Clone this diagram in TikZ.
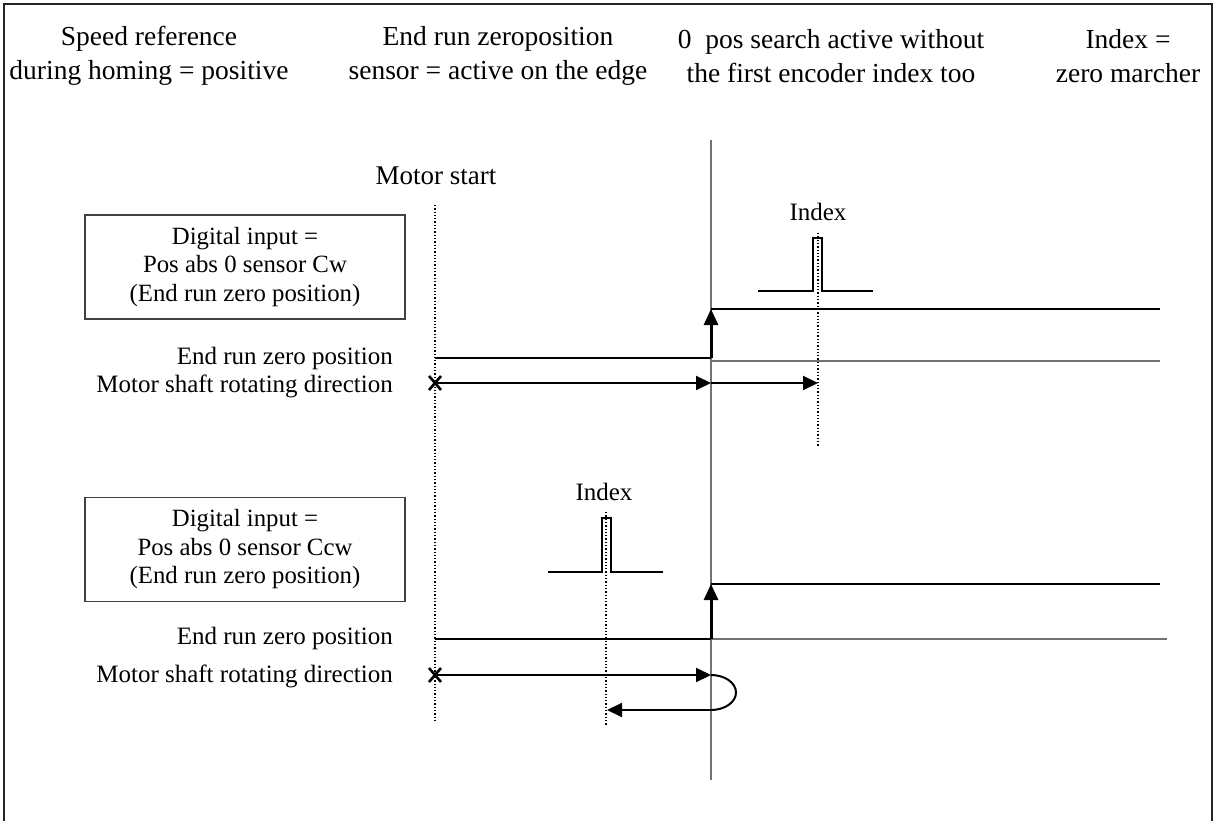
\documentclass[tikz,border=0pt]{standalone}
\usepackage{fontspec}
\setmainfont{Liberation Serif}
\usetikzlibrary{arrows.meta,calc}
\begin{document}
\begin{tikzpicture}[x=1pt,y=-1pt,
  hdr/.style={font=\fontsize{27.5}{34}\selectfont, align=center, inner sep=0pt},
  lbl/.style={font=\fontsize{25}{28}\selectfont, inner sep=0pt},
  boxnode/.style={draw=black!75, line width=1.2pt, minimum width=320pt, minimum height=104pt, align=center, font=\fontsize{24.8}{28.5}\selectfont},
  sig/.style={line width=2.8pt, black},
  thin/.style={line width=1.5pt, black!55},
  dots/.style={line width=1.3pt, dotted, black},
  arr/.style={line width=2pt, -{Triangle[length=15pt,width=14pt]}},
  varr/.style={line width=3pt, -{Triangle[length=16pt,width=14pt]}},
  pulse/.style={line width=2.2pt, black},
  frame/.style={line width=2.4pt, black!85}
]
\useasboundingbox (0,0) rectangle (1215,821);
\fill[white] (0,0) rectangle (1215,821);
% frame
\coordinate (fbl) at (4,821);
\coordinate (ftl) at (4,4);
\coordinate (ftr) at (1212,4);
\coordinate (fbr) at (1212,821);
\draw[frame] (fbl) -- (ftl) -- (ftr) -- (fbr);

% headers
\node[hdr] (h1) at (149,56) {Speed reference\\during homing = positive};
\node[hdr] (h2) at (498,56) {End run zeroposition\\sensor = active on the edge};
\node[hdr] (h3) at (831,56) {0\ \ pos search active without\\the first encoder index too};
\node[hdr] (h4) at (1128,56) {Index =\\zero marcher};

% main vertical line
\coordinate (vt) at (711,140);
\coordinate (vb) at (711,780);
\draw[thin] (vt) -- (vb);

% motor start
\node[font=\fontsize{27}{30}\selectfont, inner sep=0pt] (ms) at (436,176) {Motor start};
\coordinate (d1t) at (435,205);
\coordinate (d1b) at (435,720);
\draw[dots] (d1t) -- (d1b);

% ===== Upper diagram =====
\node[boxnode] (box1) at (245,267) {Digital input =\\Pos abs 0 sensor Cw\\(End run zero position)};
\node[lbl, anchor=east] (l1a) at (393,358) {End run zero position};
\node[lbl, anchor=east] (l1b) at (393,386) {Motor shaft rotating direction};

\coordinate (s1a) at (435,358);
\coordinate (s1b) at (711,358);
\coordinate (s1c) at (711,309);
\coordinate (s1d) at (1160,309);
\coordinate (g1a) at (711,361);
\coordinate (g1b) at (1160,361);
\draw[thin] (g1a) -- (g1b);
\draw[sig] (s1a) -- (s1b);
\draw[varr] (s1b) -- (s1c);
\draw[sig] (s1c) -- (s1d);

% index 1
\node[font=\fontsize{25}{28}\selectfont, inner sep=0pt] (ix1) at (818,212) {Index};
\coordinate (p1a) at (758,291);
\coordinate (p1b) at (813,291);
\coordinate (p1c) at (813,238);
\coordinate (p1d) at (822,238);
\coordinate (p1e) at (822,291);
\coordinate (p1f) at (873,291);
\draw[pulse] (p1a) -- (p1b) -- (p1c) -- (p1d) -- (p1e) -- (p1f);
\coordinate (d2t) at (818,233);
\coordinate (d2b) at (818,447);
\draw[dots] (d2t) -- (d2b);

% direction 1
\coordinate (x1) at (435,383);
\coordinate (a1m) at (711,383);
\coordinate (a1e) at (818,383);
\draw[line width=2.6pt] ($(x1)+(-6,-7)$) -- ($(x1)+(6,7)$) ($(x1)+(6,-7)$) -- ($(x1)+(-6,7)$);
\draw[arr] (x1) -- (a1m);
\draw[arr] (a1m) -- (a1e);

% ===== Lower diagram =====
\node[boxnode] (box2) at (245,549.5) {Digital input =\\Pos abs 0 sensor Ccw\\(End run zero position)};
\node[lbl, anchor=east] (l2a) at (393,638) {End run zero position};
\node[lbl, anchor=east] (l2b) at (393,676) {Motor shaft rotating direction};

\coordinate (s2a) at (435,639);
\coordinate (s2b) at (711,639);
\coordinate (s2c) at (711,584);
\coordinate (s2d) at (1160,584);
\coordinate (g2a) at (711,639);
\coordinate (g2b) at (1167,639);
\draw[thin] (g2a) -- (g2b);
\draw[sig] (s2a) -- (s2b);
\draw[varr] (s2b) -- (s2c);
\draw[sig] (s2c) -- (s2d);

% index 2
\node[font=\fontsize{25}{28}\selectfont, inner sep=0pt] (ix2) at (604,492) {Index};
\coordinate (p2a) at (548,572);
\coordinate (p2b) at (602,572);
\coordinate (p2c) at (602,518);
\coordinate (p2d) at (611,518);
\coordinate (p2e) at (611,572);
\coordinate (p2f) at (663,572);
\draw[pulse] (p2a) -- (p2b) -- (p2c) -- (p2d) -- (p2e) -- (p2f);
\coordinate (d3t) at (606,512);
\coordinate (d3b) at (606,725);
\draw[dots] (d3t) -- (d3b);

% direction 2
\coordinate (x2) at (435,675);
\coordinate (a2m) at (711,675);
\coordinate (a2r) at (711,710);
\coordinate (a2e) at (607,710);
\draw[line width=2.6pt] ($(x2)+(-6,-7)$) -- ($(x2)+(6,7)$) ($(x2)+(6,-7)$) -- ($(x2)+(-6,7)$);
\draw[arr] (x2) -- (a2m);
\draw[line width=2pt] (a2m) arc[start angle=90, end angle=-90, x radius=25, y radius=-17.5];
\draw[arr] (a2r) -- (a2e);
\end{tikzpicture}
\end{document}
